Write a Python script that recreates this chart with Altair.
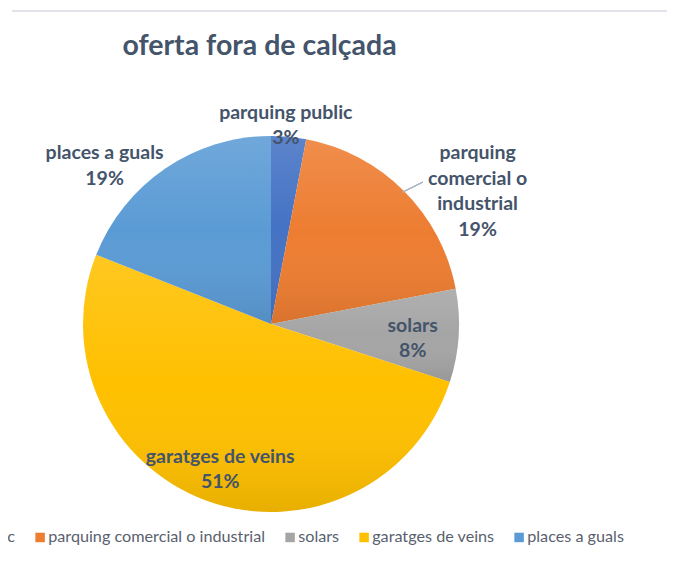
import altair as alt
import pandas as pd

categories = ["parquing public", "parquing comercial o industrial", "solars", "garatges de veins", "places a guals"]
label_names = ["parquing public", "parquing\ncomercial o\nindustrial", "solars", "garatges de veins", "places a guals"]
values = [3, 19, 8, 51, 19]
colors = ["#4472C4", "#ED7D31", "#A5A5A5", "#FFC000", "#5B9BD5"]

df = pd.DataFrame({
    "cat": categories,
    "value": values,
    "idx": list(range(len(categories))),
    "label": [f"{n}\n{v}%" for n, v in zip(label_names, values)],
})

CX, CY, R = 263, 316, 188
FONT = "Lato"
LABEL_COLOR = "#44546A"

base = alt.Chart(df)
theta = alt.Theta("value:Q", stack=True)
order = alt.Order("idx:Q", sort="ascending")

pie = base.mark_arc(outerRadius=R).encode(
    theta=theta,
    order=order,
    x=alt.value(CX),
    y=alt.value(CY),
    color=alt.Color(
        "cat:N",
        scale=alt.Scale(domain=categories, range=colors),
        sort=categories,
        legend=alt.Legend(
            title=None,
            orient="none",
            direction="horizontal",
            columns=5,
            legendX=-118,
            legendY=521,
            symbolType="square",
            symbolSize=90,
            symbolStrokeWidth=0,
            symbolOpacity=1,
            labelFont=FONT,
            labelFontSize=16.2,
            labelColor="#595f6e",
            labelOffset=0,
            columnPadding=16,
            labelLimit=400,
        ),
    ),
)

grad = alt.LinearGradient(
    gradient="linear", x1=0, y1=0, x2=0, y2=1,
    stops=[
        alt.GradientStop(offset=0, color="rgba(255,255,255,0.13)"),
        alt.GradientStop(offset=0.5, color="rgba(255,255,255,0.0)"),
        alt.GradientStop(offset=1, color="rgba(0,0,0,0.09)"),
    ],
)
shade = base.mark_arc(outerRadius=R, color=grad).encode(
    theta=theta, order=order, x=alt.value(CX), y=alt.value(CY)
)

# per-label placement: (radius, dx, dy)
placements = [(200, -4, -12), (220, 51, -15), (142, 0, -7), (153, 1, -11), (232, -36, 21)]
text_layers = []
for i, (r, dx, dy) in enumerate(placements):
    t = base.transform_calculate(
        t=f"datum.idx == {i} ? datum.label : ''"
    ).mark_text(
        radius=r, dx=dx, dy=dy, font=FONT, fontSize=19.5, fontWeight="bold",
        color=LABEL_COLOR, lineBreak="\n", lineHeight=25.5, align="center", baseline="middle",
    ).encode(theta=theta, order=order, x=alt.value(CX), y=alt.value(CY), text="t:N")
    text_layers.append(t)

leader = base.mark_rule(color="#A9B7CA", strokeWidth=1).encode(
    x=alt.value(395), y=alt.value(184), x2=alt.value(415), y2=alt.value(174)
)
topline = base.mark_rule(color="#E3E3EC", strokeWidth=2).encode(
    x=alt.value(4), x2=alt.value(665), y=alt.value(3)
)

chart = alt.layer(pie, shade, leader, topline, *text_layers).properties(
    width=659,
    height=550,
    padding=0,
    autosize=alt.AutoSizeParams(type="none"),
    title=alt.TitleParams(
        "oferta fora de calçada", font=FONT, fontSize=28.5, fontWeight="bold",
        color=LABEL_COLOR, anchor="middle", frame="group", dx=-78, dy=56,
    ),
).configure_view(stroke=None)

chart.save("out.html", embed_options={"renderer": "svg", "actions": False})
